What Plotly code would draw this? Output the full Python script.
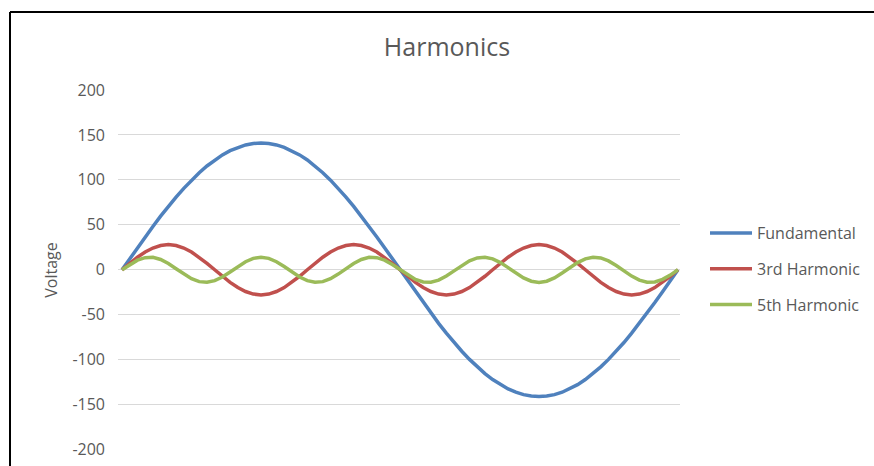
import plotly.graph_objects as go

angles = list(range(0, 361, 5))

fundamental = [0, 12.3, 24.5, 36.5, 48.2, 59.6, 70.5, 80.9, 90.6, 99.7, 108.0, 115.5,
               122.1, 127.8, 132.5, 136.2, 138.9, 140.5, 141.0, 140.5, 138.9, 136.2, 132.5,
               127.8, 122.1, 115.5, 108.0, 99.7, 90.6, 80.9, 70.5, 59.6, 48.2, 36.5, 24.5,
               12.3, 0, -12.3, -24.5, -36.5, -48.2, -59.6, -70.5, -80.9, -90.6, -99.7,
               -108.0, -115.5, -122.1, -127.8, -132.5, -136.2, -138.9, -140.5, -141.0,
               -140.5, -138.9, -136.2, -132.5, -127.8, -122.1, -115.5, -108.0, -99.7,
               -90.6, -80.9, -70.5, -59.6, -48.2, -36.5, -24.5, -12.3, 0]

third = [0, 7.2, 14.0, 19.8, 24.2, 27.0, 28.0, 27.0, 24.2, 19.8, 14.0, 7.2,
         0, -7.2, -14.0, -19.8, -24.2, -27.0, -28.0, -27.0, -24.2, -19.8, -14.0, -7.2,
         0, 7.2, 14.0, 19.8, 24.2, 27.0, 28.0, 27.0, 24.2, 19.8, 14.0, 7.2,
         0, -7.2, -14.0, -19.8, -24.2, -27.0, -28.0, -27.0, -24.2, -19.8, -14.0, -7.2,
         0, 7.2, 14.0, 19.8, 24.2, 27.0, 28.0, 27.0, 24.2, 19.8, 14.0, 7.2,
         0, -7.2, -14.0, -19.8, -24.2, -27.0, -28.0, -27.0, -24.2, -19.8, -14.0, -7.2,
         0]

fifth = [0, 5.9, 10.7, 13.5, 13.8, 11.5, 7.0, 1.2, -4.8, -9.9, -13.2, -13.9, -12.1,
         -8.0, -2.4, 3.6, 9.0, 12.7, 14.0, 12.7, 9.0, 3.6, -2.4, -8.0, -12.1, -13.9,
         -13.2, -9.9, -4.8, 1.2, 7.0, 11.5, 13.8, 13.5, 10.7, 5.9, 0, -5.9, -10.7,
         -13.5, -13.8, -11.5, -7.0, -1.2, 4.8, 9.9, 13.2, 13.9, 12.1, 8.0, 2.4, -3.6,
         -9.0, -12.7, -14.0, -12.7, -9.0, -3.6, 2.4, 8.0, 12.1, 13.9, 13.2, 9.9, 4.8,
         -1.2, -7.0, -11.5, -13.8, -13.5, -10.7, -5.9, 0]

series_names = ["Fundamental", "3rd Harmonic", "5th Harmonic"]
series_values = [fundamental, third, fifth]
colors = ["#4F81BD", "#C0504D", "#9BBB59"]
y_ticks = [-200, -150, -100, -50, 0, 50, 100, 150, 200]
y_tick_labels = ["-200", "-150", "-100", "-50", "0", "50", "100", "150", "200"]

FONT = "Open Sans"
TXT = "#595959"

fig = go.Figure()
for name, vals, col in zip(series_names, series_values, colors):
    fig.add_trace(go.Scatter(x=angles, y=vals, name=name, mode="lines",
                             legendgroup=name,
                             line=dict(color=col, width=3.5)))

W, H = 874, 466
L, T = 118, 90
R = W - 680
B = H - 450
pw, ph = W - L - R, H - T - B


def px_x(p):
    return (p - L) / pw


def px_y(p):
    return 1 - (p - T) / ph


fig.update_layout(
    width=W, height=H,
    margin=dict(l=L, r=R, t=T, b=B, autoexpand=False),
    paper_bgcolor="white", plot_bgcolor="white",
    font=dict(family=FONT, color=TXT, size=16),
    title=dict(text="Harmonics", font=dict(size=25, color=TXT, family=FONT),
               x=447 / W, xanchor="center", xref="container",
               y=1 - 47 / H, yanchor="middle", yref="container"),
    xaxis=dict(range=[-2.6, 361.3], showgrid=False, showticklabels=False,
               zeroline=False, showline=False, ticks=""),
    yaxis=dict(range=[-200.5, 200], tickvals=y_ticks, ticktext=y_tick_labels,
               showgrid=True, gridcolor="#D9D9D9", gridwidth=1, zeroline=False,
               showline=False, ticks="", ticklabelstandoff=12,
               ticklabeloverflow="allow",
               tickfont=dict(size=16, color=TXT, family=FONT),
               title=dict(text="Voltage", font=dict(size=16, color=TXT, family=FONT),
                          standoff=10)),
    legend=dict(x=px_x(705), xanchor="left", y=px_y(269), yanchor="middle",
                traceorder="grouped", tracegroupgap=12, itemwidth=42,
                font=dict(size=16, color=TXT, family=FONT),
                bgcolor="rgba(0,0,0,0)"),
    showlegend=True,
    shapes=[
        dict(type="line", xref="paper", yref="paper",
             x0=px_x(10), x1=px_x(10), y0=px_y(12), y1=px_y(480),
             line=dict(color="black", width=2)),
        dict(type="line", xref="paper", yref="paper",
             x0=px_x(10), x1=px_x(880), y0=px_y(12), y1=px_y(12),
             line=dict(color="black", width=2)),
    ],
)

fig.write_html(
    "out.html",
    config={"displayModeBar": False},
    post_script="document.body.style.margin='0';document.body.style.overflow='hidden';",
)
